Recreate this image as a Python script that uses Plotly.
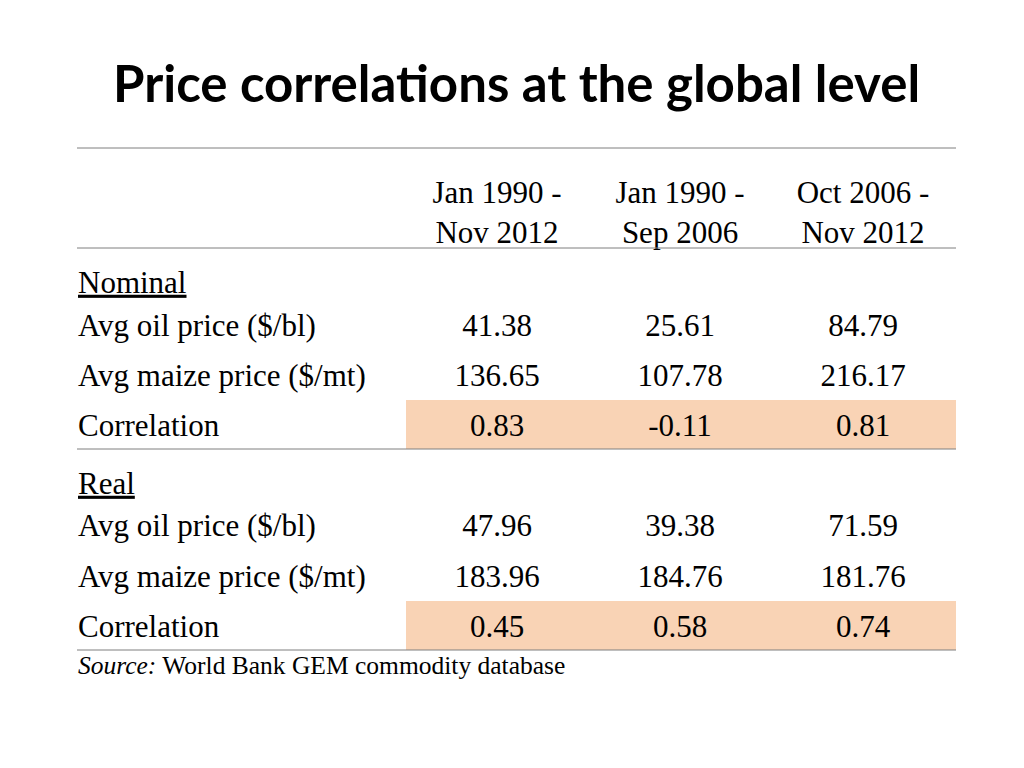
import plotly.graph_objects as go

# ---- data ----
title = "Price correlations at the global level"
col_headers = ["Jan 1990 -<br>Nov 2012", "Jan 1990 -<br>Sep 2006", "Oct 2006 -<br>Nov 2012"]
sections = ["Nominal", "Real"]
row_labels = ["Avg oil price ($/bl)", "Avg maize price ($/mt)", "Correlation"]
nominal_oil = ["41.38", "25.61", "84.79"]
nominal_maize = ["136.65", "107.78", "216.17"]
nominal_corr = ["0.83", "-0.11", "0.81"]
real_oil = ["47.96", "39.38", "71.59"]
real_maize = ["183.96", "184.76", "181.76"]
real_corr = ["0.45", "0.58", "0.74"]
source_text = "<i>Source:</i> World Bank GEM commodity database"

# ---- layout constants (pixel space of the window) ----
W, H = 1024, 768
OFF = 8  # page body margin
LEFT, RIGHT = 77, 956
LABEL_X = 80
COL_X = [497, 680, 863]
HL_X0 = 406
SERIF = "Liberation Serif, Times New Roman, serif"
FS = 31
TXT = "#000000"
LINE_C = "#7f7f7f"
HL = "#F9D3B5"
DY = 3  # text baseline nudge

section_y = [282, 483]
row_y = [[325, 375, 425], [525, 576, 626]]
data = [[nominal_oil, nominal_maize, nominal_corr], [real_oil, real_maize, real_corr]]

fig = go.Figure()
shapes = []

# highlight cells for correlation rows
for s in range(2):
    yc = row_y[s][2]
    shapes.append(dict(type="rect", xref="x", yref="y", x0=HL_X0, x1=RIGHT,
                       y0=yc - 25, y1=yc + 24, fillcolor=HL, line=dict(width=0), layer="below"))

# rules
for y in [148, 248, row_y[0][2] + 24, row_y[1][2] + 24]:
    shapes.append(dict(type="line", xref="x", yref="y", x0=LEFT, x1=RIGHT, y0=y, y1=y,
                       line=dict(color=LINE_C, width=1)))

# header
fig.add_trace(go.Scatter(x=COL_X, y=[212 + DY] * 3, text=col_headers, mode="text",
                         textposition="middle center",
                         textfont=dict(family=SERIF, size=FS, color=TXT),
                         hoverinfo="skip", showlegend=False))

# sections
for s, name in enumerate(sections):
    fig.add_trace(go.Scatter(x=[LABEL_X - 2], y=[section_y[s] + DY], text=["<u>" + name + "</u>"], mode="text",
                             textposition="middle right",
                             textfont=dict(family=SERIF, size=FS, color=TXT),
                             hoverinfo="skip", showlegend=False))
    fig.add_trace(go.Scatter(x=[LABEL_X - 2] * 3, y=[v + DY for v in row_y[s]], text=row_labels, mode="text",
                             textposition="middle right",
                             textfont=dict(family=SERIF, size=FS, color=TXT),
                             hoverinfo="skip", showlegend=False))
    for r in range(3):
        fig.add_trace(go.Scatter(x=COL_X, y=[row_y[s][r] + DY] * 3, text=data[s][r], mode="text",
                                 textposition="middle center",
                                 textfont=dict(family=SERIF, size=FS, color=TXT),
                                 hoverinfo="skip", showlegend=False))

# source
fig.add_trace(go.Scatter(x=[LABEL_X - 2], y=[665 + DY], text=[source_text], mode="text",
                         textposition="middle right",
                         textfont=dict(family=SERIF, size=25.5, color=TXT),
                         hoverinfo="skip", showlegend=False))

fig.update_layout(
    width=W, height=H,
    margin=dict(l=0, r=0, t=0, b=0),
    paper_bgcolor="white", plot_bgcolor="white",
    shapes=shapes,
    xaxis=dict(range=[OFF, W + OFF], visible=False, fixedrange=True),
    yaxis=dict(range=[H + OFF, OFF], visible=False, fixedrange=True),
    annotations=[dict(text="<b>" + title + "</b>", x=516, y=82, xref="x", yref="y",
                      showarrow=False, xanchor="center", yanchor="middle",
                      font=dict(family="Lato, Open Sans, sans-serif", size=51, color="#000000"))],
)

fig.write_html("out.html")
